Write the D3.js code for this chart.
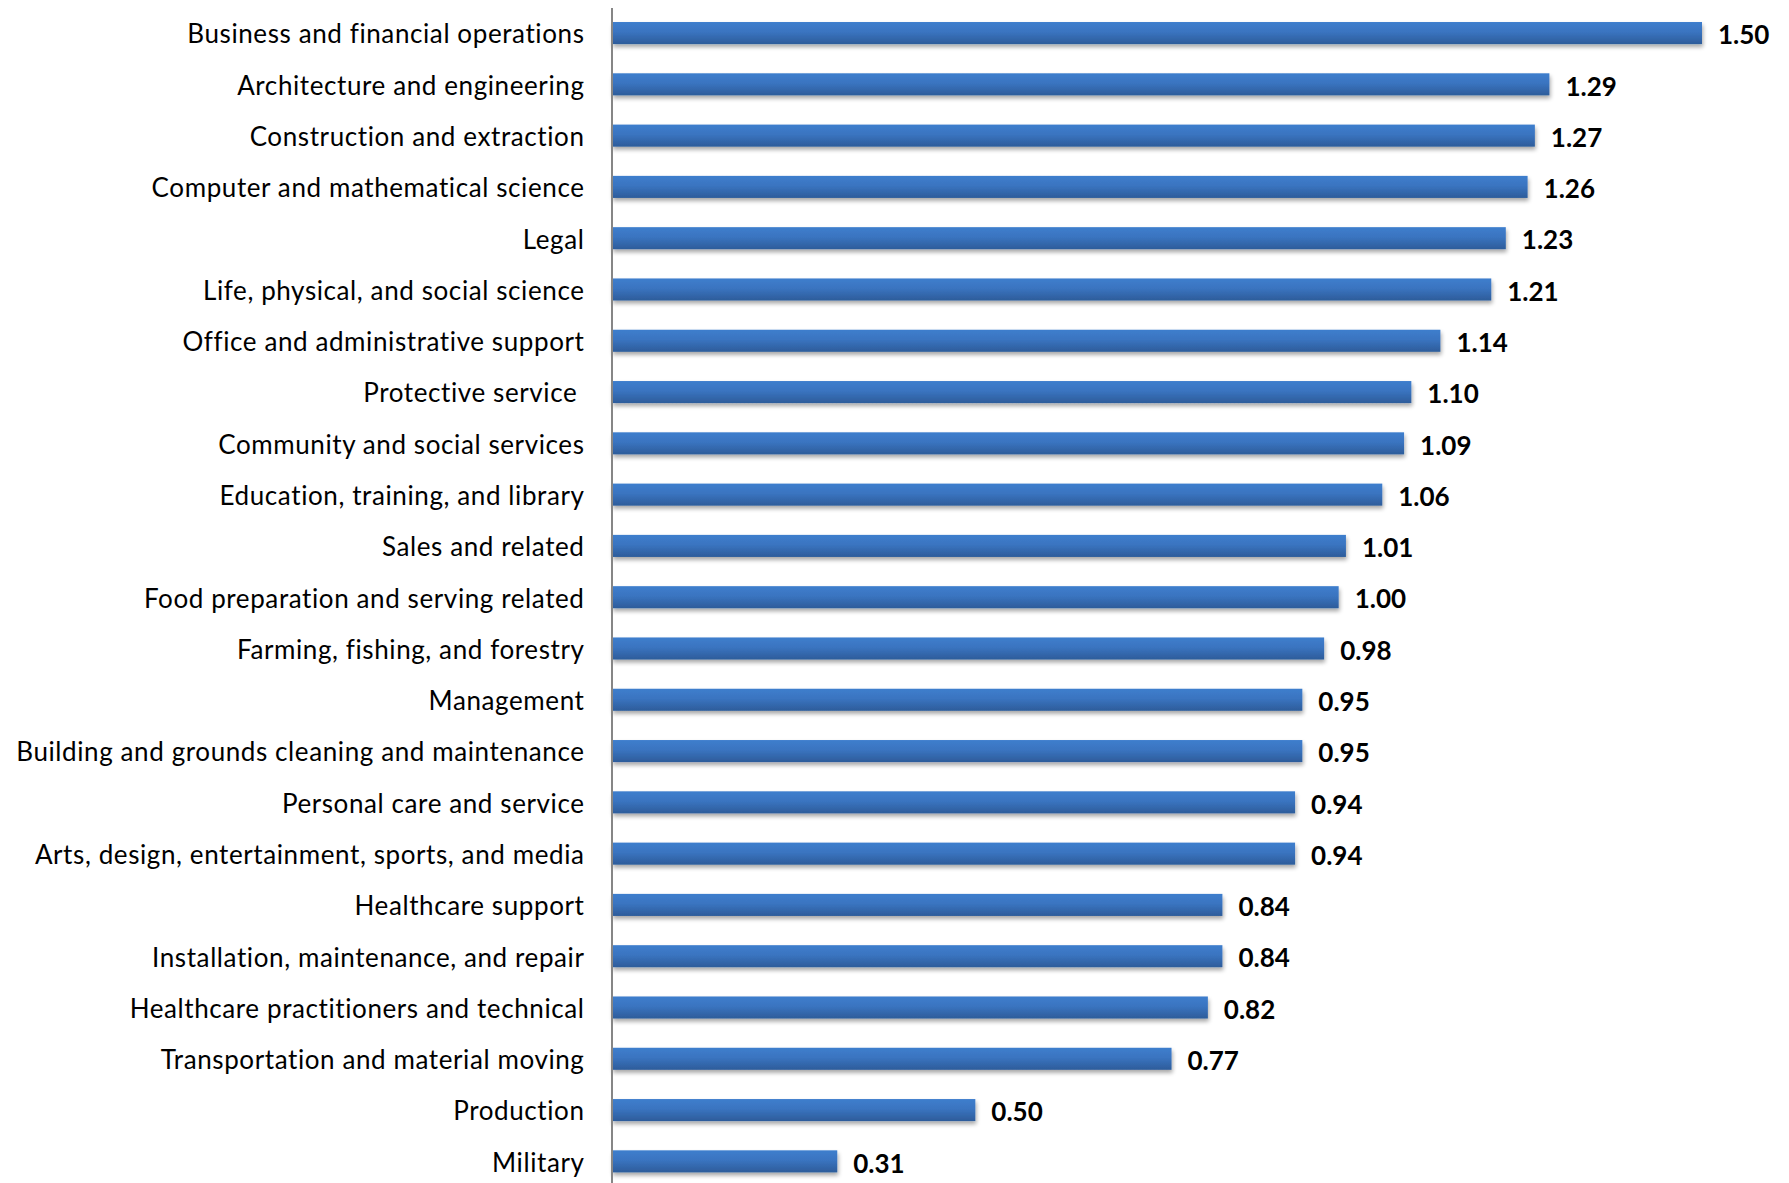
<!DOCTYPE html>
<html>
<head>
<meta charset="utf-8">
<script src="https://cdn.jsdelivr.net/npm/d3@7"></script>
<style>
  html, body { margin: 0; padding: 0; background: #fff; }
  svg { display: block; }
</style>
</head>
<body>
<svg id="chart" width="1789" height="1183"></svg>
<script>
const categories = [
  "Business and financial operations",
  "Architecture and engineering",
  "Construction and extraction",
  "Computer and mathematical science",
  "Legal",
  "Life, physical, and social science",
  "Office and administrative support",
  "Protective service ",
  "Community and social services",
  "Education, training, and library",
  "Sales and related",
  "Food preparation and serving related",
  "Farming, fishing, and forestry",
  "Management",
  "Building and grounds cleaning and maintenance",
  "Personal care and service",
  "Arts, design, entertainment, sports, and media",
  "Healthcare support",
  "Installation, maintenance, and repair",
  "Healthcare practitioners and technical",
  "Transportation and material moving",
  "Production",
  "Military"
];
const values = [1.50, 1.29, 1.27, 1.26, 1.23, 1.21, 1.14, 1.10, 1.09, 1.06, 1.01, 1.00, 0.98, 0.95, 0.95, 0.94, 0.94, 0.84, 0.84, 0.82, 0.77, 0.50, 0.31];

const data = categories.map((c, i) => ({ name: c, value: values[i] }));

const svg = d3.select("#chart");
const axisX = 611.5;
const x = d3.scaleLinear().domain([0, 1.5]).range([axisX + 0.5, 1702]);
const y = d3.scaleBand().domain(categories).range([7.4, 1187]).paddingInner(0.57).paddingOuter(0.285);

const defs = svg.append("defs");
const grad = defs.append("linearGradient").attr("id", "barGrad").attr("x1", 0).attr("y1", 0).attr("x2", 0).attr("y2", 1);
grad.append("stop").attr("offset", "0%").attr("stop-color", "#3e7ecd");
grad.append("stop").attr("offset", "45%").attr("stop-color", "#3a74c0");
grad.append("stop").attr("offset", "100%").attr("stop-color", "#2d5c9a");

const shadow = defs.append("filter").attr("id", "shadow").attr("x", "-5%").attr("y", "-30%").attr("width", "110%").attr("height", "180%");
shadow.append("feGaussianBlur").attr("in", "SourceAlpha").attr("stdDeviation", 2).attr("result", "blur");
shadow.append("feOffset").attr("in", "blur").attr("dx", 1).attr("dy", 3).attr("result", "off");
shadow.append("feComponentTransfer").attr("in", "off").attr("result", "sh")
  .append("feFuncA").attr("type", "linear").attr("slope", 0.35);
const merge = shadow.append("feMerge");
merge.append("feMergeNode").attr("in", "sh");
merge.append("feMergeNode").attr("in", "SourceGraphic");

// bars
svg.append("g").selectAll("rect").data(data).join("rect")
  .attr("x", x(0))
  .attr("y", d => y(d.name))
  .attr("width", d => x(d.value) - x(0))
  .attr("height", y.bandwidth())
  .attr("fill", "url(#barGrad)")
  .attr("filter", "url(#shadow)");

// category axis
const yAxis = d3.axisLeft(y).tickSize(0).tickPadding(27);
const gy = svg.append("g").attr("transform", `translate(${axisX},0)`).call(yAxis);
gy.select(".domain").attr("stroke", "#868686").attr("stroke-width", 2);
gy.selectAll("text")
  .attr("font-family", "Lato, 'Open Sans', sans-serif")
  .attr("font-size", 26)
  .attr("letter-spacing", "0.6px")
  .style("white-space", "pre")
  .attr("fill", "#000")
  .attr("dy", "0.4em");

// value labels
svg.append("g").selectAll("text").data(data).join("text")
  .attr("x", d => x(d.value) + 16)
  .attr("y", d => y(d.name) + y.bandwidth() / 2)
  .attr("dy", "0.43em")
  .attr("font-family", "Lato, 'Open Sans', sans-serif")
  .attr("font-weight", "bold")
  .attr("font-size", 26)
  .attr("fill", "#000")
  .text(d => d.value.toFixed(2));
</script>
</body>
</html>
